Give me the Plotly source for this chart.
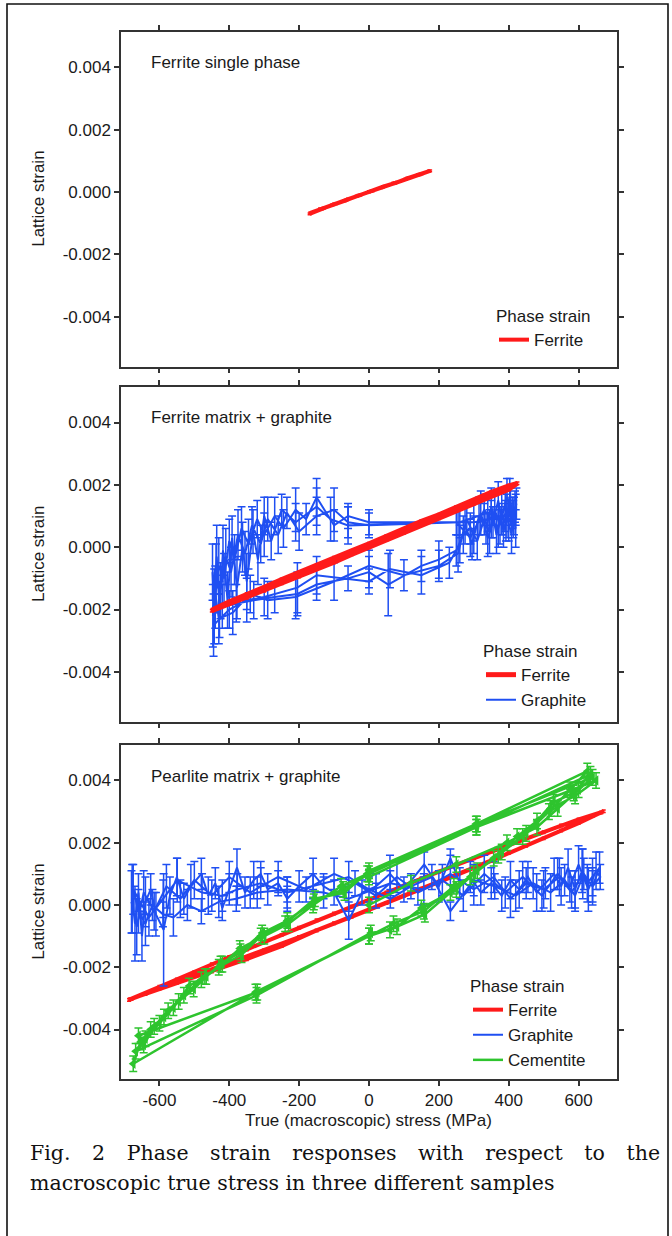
import plotly.graph_objects as go

W, H = 672, 1236

# ---------------- axis / text data ----------------
X_TICKS = [-600, -400, -200, 0, 200, 400, 600]
X_TICKTEXT = ["-600", "-400", "-200", "0", "200", "400", "600"]
Y_TICKS = [-0.004, -0.002, 0.0, 0.002, 0.004]
Y_TICKTEXT = ["-0.004", "-0.002", "0.000", "0.002", "0.004"]
X_RANGE = [-710, 710]
Y_RANGE = [-0.0056, 0.00514]

PANEL_LABELS = ["Ferrite single phase", "Ferrite matrix + graphite", "Pearlite matrix + graphite"]
LEGEND_TITLE = "Phase strain"
Y_TITLE = "Lattice strain"
X_TITLE = "True (macroscopic) stress (MPa)"
CAPTION_1 = "Fig. 2 Phase strain responses with respect to the"
CAPTION_2 = "macroscopic true stress in three different samples"
PHASES = ["Ferrite", "Graphite", "Cementite"]

# ---------------- panel 1: ferrite single phase ----------------
P1_FE_X = [-170, -135, -100, -65, -30, 5, 40, 75, 110, 145, 175, 140, 105, 70, 35, 0,
           -35, -70, -105, -140, -168, -130, -95, -60, -25, 10, 45, 80, 115, 150, 172]
P1_FE_Y = [-0.00070, -0.00054, -0.00039, -0.00026, -0.00011, 0.00002, 0.00017, 0.00029,
           0.00044, 0.00056, 0.00068, 0.00055, 0.00041, 0.00028, 0.00014, 0.00001,
           -0.00013, -0.00028, -0.00041, -0.00054, -0.00067, -0.00052, -0.00037, -0.00023,
           -0.00010, 0.00004, 0.00018, 0.00031, 0.00046, 0.00058, 0.00067]
P1_FE_ERR = 0.00003

# ---------------- panel 2: ferrite matrix + graphite ----------------
P2_FE_X = [-450, -400, -350, -300, -250, -200, -150, -100, -50, 0, 50, 100, 150, 200, 250, 300, 350, 400, 425,
           400, 350, 300, 250, 200, 150, 100, 50, 0, -50, -100, -150, -200, -250, -300, -350, -400, -448]
P2_FE_Y = [-0.00204, -0.00182, -0.00162, -0.00140, -0.00116, -0.00094, -0.00070, -0.00048, -0.00023, 0.00000,
           0.00024, 0.00046, 0.00071, 0.00093, 0.00117, 0.00139, 0.00164, 0.00186, 0.00205,
           0.00197, 0.00176, 0.00151, 0.00129, 0.00104, 0.00083, 0.00058, 0.00036, 0.00011, -0.00012,
           -0.00034, -0.00059, -0.00081, -0.00104, -0.00129, -0.00150, -0.00175, -0.00201]
P2_FE_ERR = 0.00004

P2_GR_X = [420, 390, 350, 300, 255, 0, -60, -100, -150, -180, -210, -245, -270, -300, -320, -345, -365, -385, -400, -415, -430, -440, -447,
           -420, -380, -330, -270, -205, -150, -60, 0, 55, 150, 200, 250, 270, 290, 310, 330, 345, 360, 375, 390, 400, 410, 420,
           405, 380, 340, 260, 0, -60, -100, -150, -200, -235, -260, -290, -310, -335, -355, -375, -395, -410, -425, -438, -445,
           -400, -350, -300, -205, -150, 0, 60, 150, 230, 260, 280, 300, 320, 340, 355, 370, 385, 395, 408, 418,
           415, 395, 370, 330, 290, 250, -60, -110, -150, -210, -250, -280, -300, -318, -332, -350, -362, -378, -392, -405, -418, -428, -436, -443, -448,
           -430, -390, -340, -290, -210, -100, 0, 100, 200, 255, 275, 295, 315, 335, 350, 365, 380, 392, 403, 413, 422]
P2_GR_Y = [0.0012, 0.0010, 0.0009, 0.0008, 0.0008, 0.0008, 0.0010, 0.0007, 0.0016, 0.0009, 0.0012, 0.0006, 0.0010, 0.0004, 0.0009, 0.0001, 0.0006, -0.0004, 0.0002, -0.0010, -0.0006, -0.0016, -0.0022,
           -0.0019, -0.0018, -0.0017, -0.0016, -0.0015, -0.0012, -0.0010, -0.0008, -0.0012, -0.0006, -0.0004, -0.0001, 0.0004, 0.0006, 0.0002, 0.0009, 0.0005, 0.0012, 0.0007, 0.0014, 0.0008, 0.0011, 0.0006,
           0.0013, 0.0009, 0.0011, 0.0008, 0.0007, 0.0008, 0.0012, 0.0010, 0.0005, 0.0011, 0.0004, 0.0009, 0.0001, 0.0007, -0.0002, 0.0004, -0.0008, -0.0003, -0.0014, -0.0009, -0.0025,
           -0.0020, -0.0017, -0.0016, -0.0013, -0.0009, -0.0011, -0.0007, -0.0009, -0.0005, 0.0001, 0.0009, 0.0004, 0.0011, 0.0003, 0.0008, 0.0015, 0.0005, 0.0010, 0.0004, 0.0013,
           0.0010, 0.0016, 0.0006, 0.0012, 0.0003, 0.0008, 0.0007, 0.0009, 0.0013, 0.0008, 0.0012, 0.0002, 0.0010, -0.0004, 0.0005, -0.0011, 0.0000, -0.0013, 0.0003, -0.0017, -0.0001, -0.0020, -0.0003, -0.0019, -0.0008,
           -0.0023, -0.0021, -0.0015, -0.0017, -0.0016, -0.0011, -0.0006, -0.0009, -0.0006, -0.0002, 0.0007, 0.0001, 0.0010, 0.0006, 0.0013, 0.0004, 0.0011, 0.0007, 0.0016, 0.0009, 0.0014]
P2_GR_ERR = [0.0005, 0.0005, 0.0006, 0.0006, 0.0004, 0.0004, 0.0004, 0.0005, 0.0006, 0.0005, 0.0007, 0.0006, 0.0006, 0.0007, 0.0006, 0.0008, 0.0007, 0.0008, 0.0007, 0.0008, 0.0009, 0.0010, 0.0010,
             0.0007, 0.0006, 0.0006, 0.0005, 0.0007, 0.0005, 0.0004, 0.0005, 0.0010, 0.0005, 0.0006, 0.0005, 0.0006, 0.0005, 0.0006, 0.0005, 0.0007, 0.0005, 0.0006, 0.0005, 0.0006, 0.0005, 0.0006,
             0.0006, 0.0005, 0.0006, 0.0005, 0.0004, 0.0005, 0.0007, 0.0006, 0.0006, 0.0005, 0.0006, 0.0007, 0.0006, 0.0006, 0.0007, 0.0008, 0.0008, 0.0009, 0.0009, 0.0010, 0.0010,
             0.0006, 0.0007, 0.0006, 0.0008, 0.0006, 0.0004, 0.0006, 0.0006, 0.0005, 0.0006, 0.0005, 0.0006, 0.0007, 0.0006, 0.0005, 0.0006, 0.0005, 0.0007, 0.0006, 0.0005,
             0.0006, 0.0006, 0.0006, 0.0005, 0.0006, 0.0004, 0.0006, 0.0007, 0.0006, 0.0006, 0.0005, 0.0006, 0.0006, 0.0008, 0.0007, 0.0009, 0.0008, 0.0010, 0.0007, 0.0009, 0.0008, 0.0009, 0.0010, 0.0012, 0.0009,
             0.0008, 0.0007, 0.0006, 0.0006, 0.0007, 0.0006, 0.0005, 0.0005, 0.0005, 0.0006, 0.0006, 0.0005, 0.0006, 0.0005, 0.0006, 0.0006, 0.0007, 0.0005, 0.0006, 0.0006, 0.0005]

# ---------------- panel 3: pearlite matrix + graphite ----------------
P3_FE_X = [-687, -600, -500, -400, -300, -200, -100, 0, 100, 200, 300, 400, 500, 600, 672,
           600, 500, 400, 300, 200, 100, 0, -100, -200, -300, -400, -500, -600, -685,
           -640, -550, -450, -350, -250, -150, -50, 50, 150, 250, 350, 450, 550, 665,
           640, 550, 450, 350, 250, 150, 50, -50, -150, -250, -350, -450, -550, -680]
P3_FE_Y = [-0.00305, -0.00269, -0.00228, -0.00187, -0.00145, -0.00103, -0.00059, -0.00015, 0.00030, 0.00075, 0.00120, 0.00167, 0.00214, 0.00263, 0.00301,
           0.00275, 0.00234, 0.00193, 0.00150, 0.00107, 0.00062, 0.00017, -0.00027, -0.00073, -0.00119, -0.00167, -0.00216, -0.00263, -0.00303,
           -0.00286, -0.00250, -0.00214, -0.00174, -0.00132, -0.00082, -0.00038, 0.00006, 0.00052, 0.00096, 0.00142, 0.00190, 0.00239, 0.00297,
           0.00286, 0.00255, 0.00214, 0.00172, 0.00129, 0.00085, 0.00040, -0.00005, -0.00049, -0.00096, -0.00143, -0.00190, -0.00239, -0.00302]
P3_FE_ERR = 0.00004

P3_GR_X = [-678, -670, -660, -650, -640, -625, -610, -588, -570, -550, -530, -510, -480, -460, -440, -420, -400, -378, -355, -330,
           -310, -290, -260, -234, -200, -160, -130, -100, -58, -20, 20, 60, 100, 158, 200, 233, 260, 290, 320, 350,
           380, 405, 430, 455, 480, 505, 530, 550, 570, 590, 610, 625, 640, 660,
           640, 615, 590, 560, 520, 470, 420, 360, 300, 233, 180, 120, 61, 0, -58, -160, -234, -310, -377, -420, -478, -549, -589, -630, -675,
           -660, -640, -620, -590, -560, -520, -480, -430, -380, -320, -234, -130, -58, 61, 157, 233, 300, 357, 405, 450, 500, 545, 580, 612, 640, 662,
           650, 628, 600, 575, 540, 495, 440, 390, 330, 270, 210, 140, 80, 20, -40, -100, -180, -260, -340, -400, -450, -500, -540, -580, -615, -645, -665, -680]
P3_GR_Y = [0.0002, -0.0006, 0.0004, -0.0010, 0.0001, 0.0005, -0.0003, -0.0008, 0.0003, 0.0009, 0.0002, 0.0006, 0.0010, 0.0003, 0.0007, -0.0001, 0.0005, 0.0012, 0.0004, 0.0008,
           0.0010, 0.0005, 0.0007, 0.0002, 0.0006, 0.0010, 0.0006, 0.0004, -0.0005, 0.0004, 0.0006, 0.0010, 0.0005, 0.0013, 0.0006, 0.0015, 0.0007, 0.0009, 0.0004, 0.0007,
           0.0003, 0.0008, 0.0005, 0.0009, 0.0004, 0.0007, 0.0010, 0.0006, 0.0012, 0.0005, 0.0011, 0.0007, 0.0009, 0.0012,
           0.0006, 0.0010, 0.0003, 0.0008, 0.0004, 0.0007, 0.0003, 0.0006, 0.0008, -0.0002, 0.0009, 0.0006, 0.0002, 0.0005, 0.0009, 0.0006, 0.0004, 0.0007, 0.0005, 0.0003, 0.0004, 0.0008, 0.0002, -0.0004, 0.0005,
           -0.0002, -0.0006, 0.0000, -0.0003, -0.0004, 0.0000, -0.0002, 0.0001, 0.0002, 0.0004, 0.0005, 0.0004, 0.0002, 0.0007, 0.0005, 0.0010, 0.0005, 0.0009, 0.0002, 0.0007, 0.0005, 0.0009, 0.0004, 0.0010, 0.0006, 0.0009,
           0.0011, 0.0005, 0.0013, 0.0006, 0.0010, 0.0003, 0.0009, 0.0004, 0.0010, 0.0003, 0.0008, 0.0004, 0.0009, 0.0003, 0.0007, 0.0010, 0.0005, 0.0009, 0.0004, 0.0009, 0.0003, 0.0008, 0.0002, 0.0006, -0.0002, 0.0004, -0.0007, 0.0001]
P3_GR_ERR = [0.0011, 0.0012, 0.0006, 0.0008, 0.0008, 0.0005, 0.0007, 0.0018, 0.0006, 0.0006, 0.0005, 0.0007, 0.0005, 0.0006, 0.0005, 0.0004, 0.0005, 0.0006, 0.0005, 0.0006,
             0.0004, 0.0005, 0.0004, 0.0004, 0.0005, 0.0005, 0.0004, 0.0004, 0.0006, 0.0004, 0.0004, 0.0006, 0.0004, 0.0004, 0.0005, 0.0003, 0.0005, 0.0005, 0.0004, 0.0005,
             0.0005, 0.0006, 0.0006, 0.0005, 0.0006, 0.0005, 0.0005, 0.0006, 0.0006, 0.0006, 0.0007, 0.0006, 0.0006, 0.0005,
             0.0006, 0.0005, 0.0005, 0.0005, 0.0006, 0.0005, 0.0005, 0.0004, 0.0005, 0.0003, 0.0004, 0.0004, 0.0003, 0.0004, 0.0005, 0.0004, 0.0005, 0.0005, 0.0005, 0.0005, 0.0006, 0.0007, 0.0006, 0.0006, 0.0008,
             0.0007, 0.0007, 0.0005, 0.0004, 0.0006, 0.0005, 0.0004, 0.0005, 0.0004, 0.0005, 0.0004, 0.0005, 0.0004, 0.0004, 0.0005, 0.0006, 0.0005, 0.0005, 0.0006, 0.0005, 0.0006, 0.0006, 0.0005, 0.0008, 0.0005, 0.0004,
             0.0006, 0.0007, 0.0006, 0.0005, 0.0005, 0.0005, 0.0005, 0.0005, 0.0006, 0.0005, 0.0005, 0.0004, 0.0005, 0.0004, 0.0004, 0.0005, 0.0004, 0.0005, 0.0005, 0.0005, 0.0005, 0.0006, 0.0006, 0.0007, 0.0006, 0.0007, 0.0009, 0.0010]

P3_CE_X = [0, 120, 250, 395, 481, 540, 600, 640,
           309, 0, -74, -158, -234, -306, -368, -425, -466, -502, -545, -587, -625, -654, -675,
           -325, 0, 70, 157, 243, 290, 357, 424, 481, 528, 586, 634,
           307, -5, -80, -160, -230, -300, -370, -420, -470, -515, -560, -600, -640, -668,
           -322, 5, 60, 160, 233, 300, 370, 440, 515, 576, 625,
           306, 0, -70, -155, -240, -310, -365, -430, -480, -530, -575, -615, -645, -660,
           -320, 0, 80, 150, 250, 310, 380, 450, 520, 590, 650,
           308, 0]
P3_CE_Y = [0.0000, 0.0007, 0.0013, 0.0020, 0.0025, 0.0031, 0.0037, 0.0041,
           0.0026, 0.0010, 0.0005, 0.0001, -0.0005, -0.0009, -0.0015, -0.0019, -0.0023, -0.0027, -0.0031, -0.0036, -0.0040, -0.0044, -0.0051,
           -0.0028, -0.0010, -0.0006, -0.0002, 0.0006, 0.0009, 0.0015, 0.0022, 0.0027, 0.0033, 0.0036, 0.0042,
           0.0025, 0.0010, 0.0006, 0.0000, -0.0006, -0.0010, -0.0014, -0.0019, -0.0023, -0.0026, -0.0033, -0.0038, -0.0043, -0.0047,
           -0.0029, -0.0009, -0.0008, -0.0003, 0.0004, 0.0010, 0.0016, 0.0022, 0.0030, 0.0037, 0.0043,
           0.0026, 0.0011, 0.0004, 0.0002, -0.0006, -0.0010, -0.0016, -0.0020, -0.0024, -0.0029, -0.0034, -0.0039, -0.0045, -0.0042,
           -0.0028, -0.0010, -0.0007, -0.0001, 0.0005, 0.0011, 0.0017, 0.0023, 0.0031, 0.0035, 0.0040,
           0.0025, 0.0009]
P3_CE_ERR = 0.00025

for a, b in [(P1_FE_X, P1_FE_Y), (P2_FE_X, P2_FE_Y), (P2_GR_X, P2_GR_Y), (P2_GR_X, P2_GR_ERR),
             (P3_FE_X, P3_FE_Y), (P3_GR_X, P3_GR_Y), (P3_GR_X, P3_GR_ERR), (P3_CE_X, P3_CE_Y)]:
    assert len(a) == len(b), (len(a), len(b))

# ---------------- styling ----------------
RED = "#ff1a1a"
BLUE = "#1f4ff2"
GREEN = "#2ec42e"
SANS = "Liberation Sans, Arial, sans-serif"
SERIF = "DejaVu Serif, serif"
TXT = "#1a1a1a"
FS = 17

PANEL_TOPS = [31.7, 387.0, 745.0]
PANEL_BOTS = [366.7, 721.7, 1079.3]
BOX_L, BOX_R = 121.0, 617.0
LEGEND_POS = [(494, 300), (481, 635), (468, 970)]
LABEL_Y = [62, 418, 776]


def fx(p):
    return p / W


def fy(p):
    return 1 - p / H


def err(vals, color, thick=1.5, width=4):
    if isinstance(vals, list):
        return dict(type="data", array=vals, color=color, thickness=thick, width=width)
    return dict(type="constant", value=vals, color=color, thickness=thick, width=width)


fig = go.Figure()

# panel 1
fig.add_trace(go.Scatter(x=P1_FE_X, y=P1_FE_Y, mode="lines", name=PHASES[0],
                         line=dict(color=RED, width=4), error_y=err(P1_FE_ERR, RED, 1.5, 2),
                         xaxis="x", yaxis="y", legend="legend", legendrank=1))
# panel 2
fig.add_trace(go.Scatter(x=P2_GR_X, y=P2_GR_Y, mode="lines", name=PHASES[1],
                         line=dict(color=BLUE, width=2), error_y=err(P2_GR_ERR, BLUE),
                         xaxis="x2", yaxis="y2", legend="legend2", legendrank=2))
fig.add_trace(go.Scatter(x=P2_FE_X, y=P2_FE_Y, mode="lines", name=PHASES[0],
                         line=dict(color=RED, width=5), error_y=err(P2_FE_ERR, RED, 1.5, 2),
                         xaxis="x2", yaxis="y2", legend="legend2", legendrank=1))
# panel 3
fig.add_trace(go.Scatter(x=P3_FE_X, y=P3_FE_Y, mode="lines", name=PHASES[0],
                         line=dict(color=RED, width=4), error_y=err(P3_FE_ERR, RED, 1.5, 2),
                         xaxis="x3", yaxis="y3", legend="legend3", legendrank=1))
fig.add_trace(go.Scatter(x=P3_GR_X, y=P3_GR_Y, mode="lines", name=PHASES[1],
                         line=dict(color=BLUE, width=2), error_y=err(P3_GR_ERR, BLUE),
                         xaxis="x3", yaxis="y3", legend="legend3", legendrank=2))
fig.add_trace(go.Scatter(x=P3_CE_X, y=P3_CE_Y, mode="lines", name=PHASES[2],
                         line=dict(color=GREEN, width=2.5), error_y=err(P3_CE_ERR, GREEN, 1.5, 4),
                         xaxis="x3", yaxis="y3", legend="legend3", legendrank=3))
fig.add_trace(go.Scatter(x=P3_CE_X, y=P3_CE_Y, mode="markers", name=PHASES[2], showlegend=False,
                         marker=dict(color=GREEN, size=9, symbol="triangle-left"),
                         xaxis="x3", yaxis="y3", legend="legend3"))

layout = dict(
    width=W, height=H, autosize=False,
    margin=dict(l=0, r=0, t=0, b=0, pad=0),
    paper_bgcolor="white", plot_bgcolor="white",
    font=dict(family=SANS, size=FS, color=TXT),
    showlegend=True,
)

for i in range(3):
    s = "" if i == 0 else str(i + 1)
    dom = [fy(PANEL_BOTS[i]), fy(PANEL_TOPS[i])]
    common = dict(showline=True, linecolor="#333", linewidth=1.5, mirror="ticks",
                  ticks="outside", ticklen=5, tickwidth=1.5, tickcolor="#333",
                  showgrid=False, zeroline=False, tickfont=dict(family=SANS, size=FS, color=TXT))
    layout["xaxis" + s] = dict(domain=[fx(BOX_L), fx(BOX_R)], range=X_RANGE, anchor="y" + s,
                               tickmode="array", tickvals=X_TICKS, ticktext=X_TICKTEXT,
                               showticklabels=(i == 2), **common)
    layout["yaxis" + s] = dict(domain=dom, range=Y_RANGE, anchor="x" + s,
                               tickmode="array", tickvals=Y_TICKS, ticktext=Y_TICKTEXT, **common)
    lx, ly = LEGEND_POS[i]
    layout["legend" + s] = dict(x=fx(lx), y=fy(ly), xanchor="left", yanchor="top",
                                xref="paper", yref="paper",
                                bgcolor="rgba(0,0,0,0)", borderwidth=0,
                                title=dict(text=LEGEND_TITLE, font=dict(family=SANS, size=FS, color=TXT)),
                                font=dict(family=SANS, size=FS, color=TXT), tracegroupgap=0,
                                itemwidth=30)

annotations = []
for i in range(3):
    annotations.append(dict(text=PANEL_LABELS[i], x=fx(149), y=fy(LABEL_Y[i]), xref="paper", yref="paper",
                            xanchor="left", yanchor="middle", showarrow=False,
                            font=dict(family=SANS, size=FS, color=TXT)))
    annotations.append(dict(text=Y_TITLE, x=fx(38.6), y=fy((PANEL_TOPS[i] + PANEL_BOTS[i]) / 2),
                            xref="paper", yref="paper", xanchor="center", yanchor="middle",
                            textangle=-90, showarrow=False, font=dict(family=SANS, size=FS, color=TXT)))
annotations.append(dict(text=X_TITLE, x=fx(368.5), y=fy(1120), xref="paper", yref="paper",
                        xanchor="center", yanchor="middle", showarrow=False,
                        font=dict(family=SANS, size=FS, color=TXT)))
cap1 = CAPTION_1.replace(" ", " \u00a0\u00a0\u200a")
annotations.append(dict(text=cap1, x=fx(28), y=fy(1153), xref="paper", yref="paper",
                        xanchor="left", yanchor="middle", showarrow=False,
                        font=dict(family=SERIF, size=20.5, color="#111")))
annotations.append(dict(text=CAPTION_2, x=fx(28), y=fy(1183), xref="paper", yref="paper",
                        xanchor="left", yanchor="middle", showarrow=False,
                        font=dict(family=SERIF, size=20.5, color="#111")))
layout["annotations"] = annotations

layout["shapes"] = [dict(type="rect", xref="paper", yref="paper",
                         x0=fx(7), x1=fx(668), y0=-0.02, y1=fy(4),
                         line=dict(color="#111", width=1.6), fillcolor="rgba(0,0,0,0)", layer="below")]

fig.update_layout(**layout)
fig.write_html("out.html", config={"displayModeBar": False},
               post_script="document.body.style.margin='0px';")
